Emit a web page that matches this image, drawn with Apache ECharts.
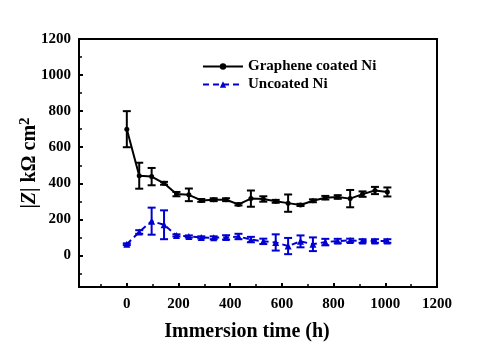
<!DOCTYPE html>
<html><head><meta charset="utf-8">
<script src="https://cdn.jsdelivr.net/npm/echarts@6/dist/echarts.min.js"></script>
<style>html,body{margin:0;padding:0;background:#fff}#c{width:479px;height:356px}</style>
</head><body><div id="c"></div>
<script>
const hours = [0,48,96,144,192,240,288,336,384,432,480,528,576,624,672,720,768,816,864,912,960,1008];
const coatedNi    = [700,442,437,400,340,336,305,309,309,283,315,313,300,290,280,303,320,324,315,340,360,352];
const coatedErr   = [100,72,48,8,12,35,8,8,8,6,45,15,8,48,6,8,10,10,48,15,20,25];
const uncoatedNi  = [62,130,190,170,111,105,100,98,100,105,88,78,72,52,78,62,74,80,83,80,80,80];
const uncoatedErr = [5,10,75,80,6,6,6,8,12,15,15,15,45,45,33,38,18,12,10,10,10,10];
const xTicks = [0,200,400,600,800,1000,1200];
const xMinorTicks = [-100,100,300,500,700,900,1100];
const yTicks = [0,200,400,600,800,1000,1200];
const yMinorTicks = [-100,100,300,500,700,900,1100];

const FONT = "'Liberation Serif','Times New Roman',serif";
const BLACK = '#000000';
const BLUE = '#0000d2';
const X_MIN = -185, X_MAX = 1200, Y_MIN = -175, Y_MAX = 1200;

function pairs(xs, ys){ return xs.map((x,i)=>[x, ys[i]]); }
function bars(xs, ys, es){ return xs.map((x,i)=>[x, ys[i]-es[i], ys[i]+es[i]]); }

function errorBarItem(color){
  return function(params, api){
    const x = api.value(0), lo = api.value(1), hi = api.value(2);
    const p1 = api.coord([x, lo]);
    const p2 = api.coord([x, hi]);
    const w = 4;
    const style = {stroke: color, lineWidth: 2, fill: null};
    return {type:'group', children:[
      {type:'line', shape:{x1:p1[0],y1:p1[1],x2:p2[0],y2:p2[1]}, style},
      {type:'line', shape:{x1:p1[0]-w,y1:p1[1],x2:p1[0]+w,y2:p1[1]}, style},
      {type:'line', shape:{x1:p2[0]-w,y1:p2[1],x2:p2[0]+w,y2:p2[1]}, style}
    ]};
  };
}

const labelStyle = {color:BLACK, fontFamily:FONT, fontWeight:'bold', fontSize:15, formatter:(v)=>String(v)};

const chart = echarts.init(document.getElementById('c'), null, {renderer:'canvas'});
chart.setOption({
  animation:false,
  backgroundColor:'#fff',
  grid:{left:79, right:42, top:39, bottom:69, show:true, borderColor:BLACK, borderWidth:2, backgroundColor:'transparent'},
  legend:{
    data:['Graphene coated Ni','Uncoated Ni'],
    orient:'vertical', left:197, top:54, itemWidth:40, itemHeight:8, itemGap:3,
    textStyle:{color:BLACK, fontFamily:FONT, fontWeight:'bold', fontSize:15}
  },
  xAxis:[
    {type:'value', min:X_MIN, max:X_MAX, position:'bottom',
     axisLine:{show:true, onZero:false, lineStyle:{color:BLACK, width:2}},
     axisTick:{show:true, inside:true, length:4, customValues:xTicks, lineStyle:{color:BLACK, width:2}},
     axisLabel:Object.assign({customValues:xTicks, margin:10}, labelStyle),
     splitLine:{show:false},
     name:'Immersion time (h)', nameLocation:'middle', nameGap:35, nameMoveOverlap:false,
     nameTextStyle:{color:BLACK, fontFamily:FONT, fontWeight:'bold', fontSize:20, padding:[0,22,0,0]}},
    {type:'value', min:X_MIN, max:X_MAX, position:'bottom',
     axisLine:{show:false, onZero:false},
     axisTick:{show:true, inside:true, length:3, customValues:xMinorTicks, lineStyle:{color:BLACK, width:1.5}},
     axisLabel:{show:false}, splitLine:{show:false}}
  ],
  yAxis:[
    {type:'value', min:Y_MIN, max:Y_MAX, position:'left',
     axisLine:{show:true, onZero:false, lineStyle:{color:BLACK, width:2}},
     axisTick:{show:true, inside:true, length:4, customValues:yTicks, lineStyle:{color:BLACK, width:2}},
     axisLabel:Object.assign({customValues:yTicks, margin:8}, labelStyle),
     splitLine:{show:false},
     name:'|{i|Z}| kΩ cm{sup|2}', nameLocation:'middle', nameGap:37, nameMoveOverlap:false,
     nameTextStyle:{color:BLACK, fontFamily:FONT, fontWeight:'bold', fontSize:20,
       rich:{
         i:{fontFamily:FONT, fontWeight:'bold', fontStyle:'italic', fontSize:20, color:BLACK},
         sup:{fontFamily:FONT, fontWeight:'bold', fontSize:15, color:BLACK, verticalAlign:'bottom', padding:[0,0,9,0]}
       }}},
    {type:'value', min:Y_MIN, max:Y_MAX, position:'left',
     axisLine:{show:false, onZero:false},
     axisTick:{show:true, inside:true, length:3, customValues:yMinorTicks, lineStyle:{color:BLACK, width:1.5}},
     axisLabel:{show:false}, splitLine:{show:false}}
  ],
  series:[
    {name:'Graphene coated Ni err', type:'custom', xAxisIndex:0, yAxisIndex:0,
     renderItem:errorBarItem(BLACK), data:bars(hours, coatedNi, coatedErr), z:3},
    {name:'Uncoated Ni err', type:'custom', xAxisIndex:0, yAxisIndex:0,
     renderItem:errorBarItem(BLUE), data:bars(hours, uncoatedNi, uncoatedErr), z:3},
    {name:'Graphene coated Ni', type:'line', xAxisIndex:0, yAxisIndex:0,
     data:pairs(hours, coatedNi), symbol:'circle', symbolSize:5,
     itemStyle:{color:BLACK}, lineStyle:{color:BLACK, width:2}, z:4},
    {name:'Uncoated Ni', type:'line', xAxisIndex:0, yAxisIndex:0,
     data:pairs(hours, uncoatedNi), symbol:'triangle', symbolSize:7,
     itemStyle:{color:BLUE}, lineStyle:{color:BLUE, width:2, type:[6,4]}, z:4}
  ]
});
</script></body></html>
